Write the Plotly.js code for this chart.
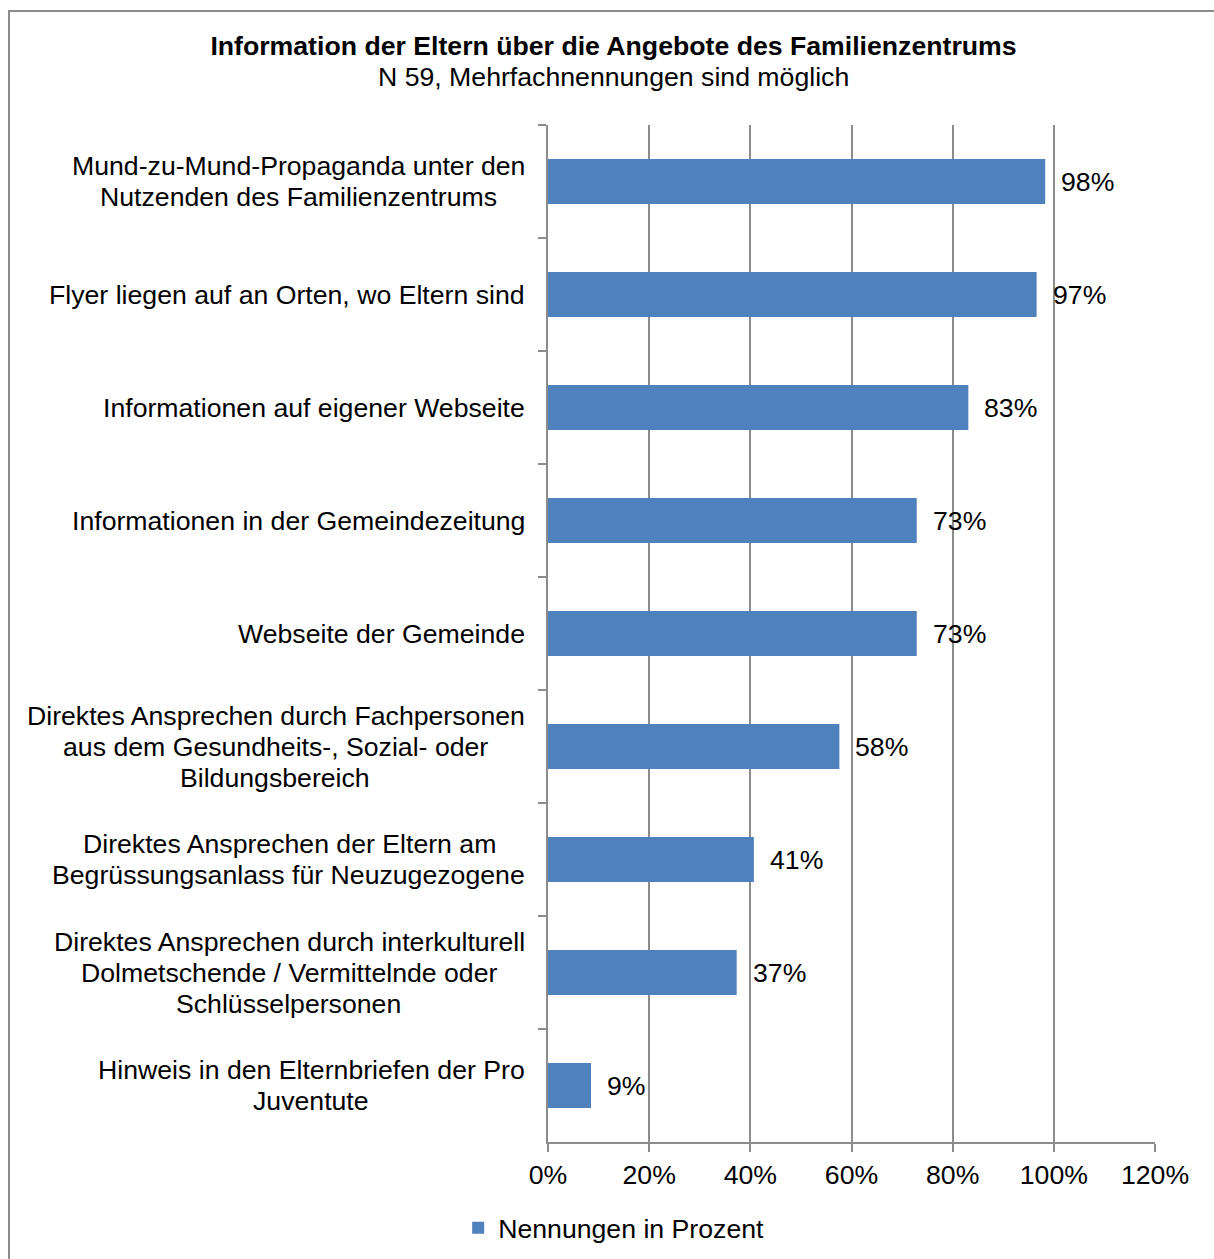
<!DOCTYPE html>
<html>
<head>
<meta charset="utf-8">
<script src="https://cdn.plot.ly/plotly-3.0.1.min.js"></script>
<style>
  html, body { margin: 0; padding: 0; background: #fff; }
  #wrap { position: relative; width: 1214px; height: 1259px; overflow: hidden; }
  #frame { position: absolute; left: 8px; top: 10px; width: 1230px; height: 1280px; border: 2px solid #8c8c8c; box-sizing: border-box; pointer-events: none; }
  #chart { position: absolute; left: 0; top: 0; width: 1214px; height: 1259px; }
</style>
</head>
<body>
<div id="wrap">
  <div id="chart"></div>
  <div id="frame"></div>
</div>
<script>
const categories = [
  "Mund-zu-Mund-Propaganda unter den<br>Nutzenden des Familienzentrums",
  "Flyer liegen auf an Orten, wo Eltern sind",
  "Informationen auf eigener Webseite",
  "Informationen in der Gemeindezeitung",
  "Webseite der Gemeinde",
  "Direktes Ansprechen durch Fachpersonen<br>aus dem Gesundheits-, Sozial- oder<br>Bildungsbereich",
  "Direktes Ansprechen der Eltern am<br>Begrüssungsanlass für Neuzugezogene",
  "Direktes Ansprechen durch interkulturell<br>Dolmetschende / Vermittelnde oder<br>Schlüsselpersonen",
  "Hinweis in den Elternbriefen der Pro<br>Juventute"
];
const values = [98.3, 96.6, 83.1, 72.9, 72.9, 57.6, 40.7, 37.3, 8.5];
const valueLabels = ["98%", "97%", "83%", "73%", "73%", "58%", "41%", "37%", "9%"];
const seriesName = "Nennungen in Prozent";
const chartTitle = "Information der Eltern über die Angebote des Familienzentrums";
const chartSubtitle = "N 59, Mehrfachnennungen sind möglich";
const xTickVals = [0, 20, 40, 60, 80, 100, 120];
const xTickText = ["0%", "20%", "40%", "60%", "80%", "100%", "120%"];

const FONT = "Liberation Sans, Arial, sans-serif";
const FS = 26.67;
const LINE = 31;
const GRID = "#8c8c8c";
const H = 1259, MT = 125, MB = 117;
const PH = H - MT - MB;

const trace = {
  type: "bar",
  orientation: "h",
  x: values,
  y: categories,
  name: seriesName,
  marker: { color: "#4f81bd" },
  hoverinfo: "none",
  showlegend: true
};

// measure text widths so lines of one label are centered on each other, block right-aligned
const measure = document.createElement("canvas").getContext("2d");
measure.font = FS + "px " + FONT;

const annotations = [];
categories.forEach((c, i) => {
  const lines = c.split("<br>");
  const n = lines.length;
  const widths = lines.map(l => measure.measureText(l).width);
  const maxW = Math.max.apply(null, widths);
  lines.forEach((ln, k) => {
    annotations.push({
      xref: "paper", yref: "y", x: 0, y: c,
      xanchor: "right", yanchor: "middle",
      xshift: -21 - (maxW - widths[k]) / 2,
      yshift: ((n - 1) / 2 - k) * LINE,
      text: ln, align: "center", showarrow: false,
      font: { family: FONT, size: FS, color: "#000" }
    });
  });
  annotations.push({
    xref: "x", yref: "y", x: values[i], y: c,
    xanchor: "left", yanchor: "middle", xshift: 14,
    text: valueLabels[i], showarrow: false,
    font: { family: FONT, size: FS, color: "#000" }
  });
});

annotations.push({
  xref: "paper", yref: "paper",
  x: (613.5 - 548) / 607, y: (H - MB - 77) / PH,
  xanchor: "center", yanchor: "middle",
  text: chartSubtitle, showarrow: false,
  font: { family: FONT, size: FS, color: "#000" }
});

const layout = {
  width: 1214, height: H,
  margin: { l: 548, r: 59, t: MT, b: MB, pad: 0, autoexpand: false },
  paper_bgcolor: "rgba(0,0,0,0)",
  plot_bgcolor: "rgba(0,0,0,0)",
  font: { family: FONT, size: FS, color: "#000" },
  title: {
    text: "<b>" + chartTitle + "</b>",
    font: { family: FONT, size: FS, color: "#000" },
    xref: "container", yref: "container",
    x: 613.5 / 1214, xanchor: "center",
    y: 1 - 46 / H, yanchor: "middle"
  },
  bargap: 0.6,
  xaxis: {
    range: [0, 120],
    tickvals: xTickVals, ticktext: xTickText,
    showgrid: true, gridcolor: GRID, gridwidth: 2,
    zeroline: false,
    showline: true, linecolor: GRID, linewidth: 2,
    ticks: "outside", ticklen: 8, tickcolor: GRID, tickwidth: 2,
    tickfont: { family: FONT, size: FS, color: "#000" },
    automargin: false,
    fixedrange: true
  },
  yaxis: {
    type: "category",
    autorange: "reversed",
    showticklabels: false,
    tickson: "boundaries",
    ticks: "outside", ticklen: 8, tickcolor: GRID, tickwidth: 2,
    showline: true, linecolor: GRID, linewidth: 2,
    showgrid: false, zeroline: false,
    automargin: false,
    fixedrange: true
  },
  legend: {
    orientation: "h",
    x: -0.148, xanchor: "left",
    y: (H - MB - 1228) / PH, yanchor: "middle",
    font: { family: FONT, size: FS, color: "#000" },
    itemwidth: 30,
    bgcolor: "rgba(0,0,0,0)"
  },
  annotations: annotations
};

Plotly.newPlot("chart", [trace], layout, { displayModeBar: false, staticPlot: true });
</script>
</body>
</html>
